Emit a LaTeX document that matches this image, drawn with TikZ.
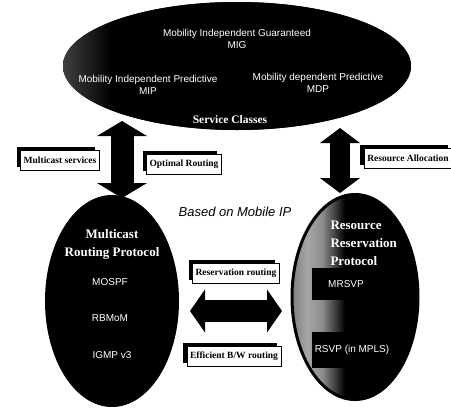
\documentclass[tikz,border=0pt]{standalone}
\usepackage{fontspec}
\setmainfont{Liberation Serif}
\setsansfont{Liberation Sans}
\usetikzlibrary{shapes.geometric,arrows.meta}

\pgfdeclarehorizontalshading{classshade}{100bp}{color(0bp)=(black!75); color(25bp)=(black!75); color(32bp)=(black); color(100bp)=(black)}
\pgfdeclarehorizontalshading{rsvpshade}{100bp}{color(0bp)=(black!50); color(25bp)=(black!50); color(31bp)=(black!35); color(37bp)=(black!45); color(42bp)=(black!75); color(46bp)=(black); color(100bp)=(black)}

\tikzset{
  blob/.style={ellipse, fill=black, inner sep=0pt},
  inner/.style={text=white, font=\sffamily\fontsize{10}{11.5}\selectfont, align=center},
  title/.style={text=white, font=\bfseries\fontsize{13}{18}\selectfont},
  tag/.style={draw=black, fill=white, semithick, font=\bfseries\fontsize{9.5}{11}\selectfont,
    inner xsep=3pt, minimum height=20pt,
    preaction={fill=black, transform canvas={xshift=-4pt, yshift=3pt}}},
  fatarrow/.style 2 args={line width=#1,
    {Triangle[length=15pt,width=#2,line width=0pt]}-{Triangle[length=15pt,width=#2,line width=0pt]}},
}

\begin{document}
\begin{tikzpicture}[x=1pt,y=-1pt]
\useasboundingbox (0,0) rectangle (451,408);

% service classes
\node[blob, shade, shading=classshade, minimum width=348pt, minimum height=128pt] (classes) at (237,66) {};
\node[inner] (mig) at (237,39) {Mobility Independent Guaranteed\\MIG};
\node[inner] (mip) at (148,85) {Mobility Independent Predictive\\MIP};
\node[inner] (mdp) at (318,83) {Mobility dependent Predictive\\MDP};
\node[title, font=\bfseries\fontsize{11.5}{13}\selectfont] (svc) at (230,120) {Service Classes};

% multicast routing
\node[blob, minimum width=134pt, minimum height=212pt] (mcast) at (112,301) {};
\node[title, align=center] (mrp) at (112,244) {Multicast\\Routing Protocol};
\node[inner] (mospf) at (110,282) {MOSPF};
\node[inner] (rbmom) at (110,318) {RBMoM};
\node[inner] (igmp) at (112,355) {IGMP v3};

% resource reservation
\node[blob, draw=black, line width=3pt, shade, shading=rsvpshade, minimum width=126pt, minimum height=205pt] (rsvp) at (355,297) {};
\begin{scope}
\clip (355,297) ellipse (62 and 101.5);
\fill (312,268) rectangle (430,300);
\fill (312,332) rectangle (430,368);
\end{scope}
\node[title, align=left, anchor=west] (rrp) at (327,243) {Resource\\Reservation\\Protocol};
\node[inner] (mrsvp) at (346,284) {MRSVP};
\node[inner] (mpls) at (352,350) {RSVP (in MPLS)};

\node[font=\sffamily\itshape\fontsize{13}{15}\selectfont] (mip-base) at (235,212) {Based on Mobile IP};

% block arrows
\coordinate (l-top) at (122,121);
\coordinate (l-bot) at (122,198);
\coordinate (r-top) at (340,128);
\coordinate (r-bot) at (340,193);
\coordinate (h-left) at (190,311);
\coordinate (h-right) at (282,311);
\draw[fatarrow={23pt}{50pt}] (l-top) -- (l-bot);
\draw[fatarrow={20pt}{40pt}] (r-top) -- (r-bot);
\draw[fatarrow={22pt}{43pt}] (h-left) -- (h-right);

% labels
\node[tag] (msvc) at (60,160) {Multicast services};
\node[tag] (optr) at (184,164) {Optimal Routing};
\node[tag] (ralloc) at (408,158) {Resource Allocation};
\node[tag] (resr) at (236,273) {Reservation routing};
\node[tag] (effr) at (234,356) {Efficient B/W routing};
\end{tikzpicture}
\end{document}
